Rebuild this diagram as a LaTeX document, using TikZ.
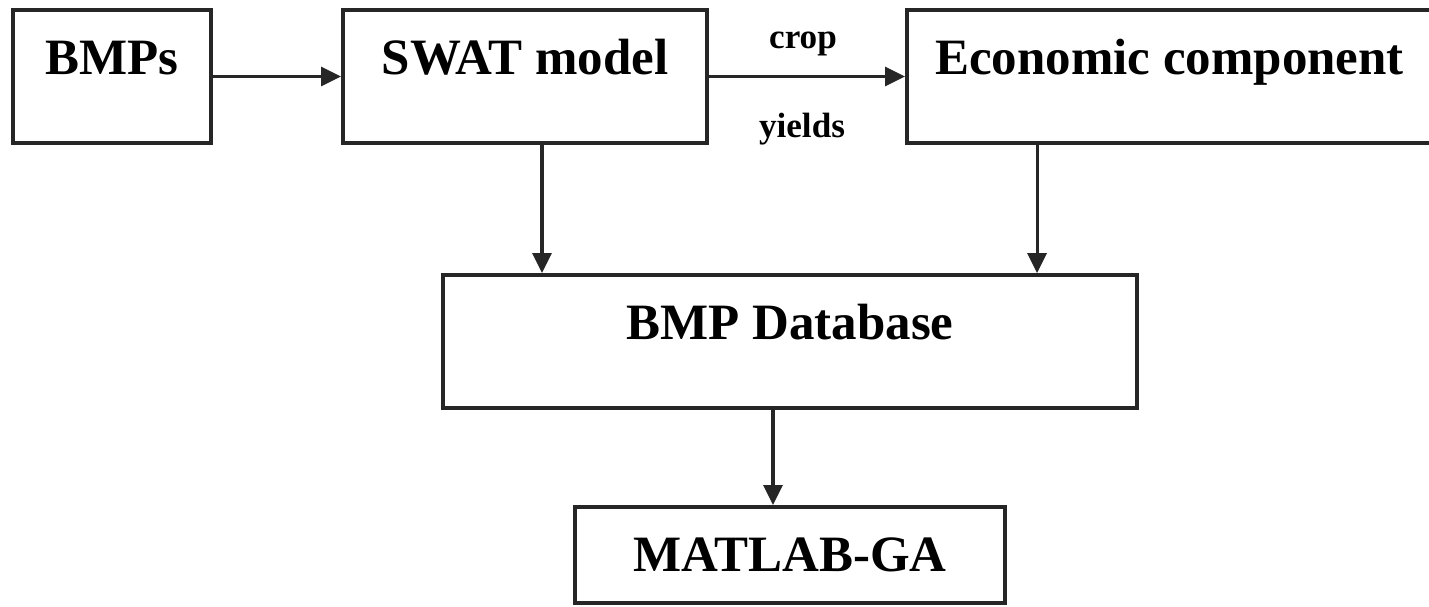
\documentclass[tikz,border=0pt]{standalone}
\usepackage{fontspec}
\setmainfont{Liberation Serif}
\usetikzlibrary{arrows.meta,positioning,calc}
\tikzset{box/.style={draw=black!85,line width=2.2pt,align=center,inner xsep=0pt,inner ysep=0pt,text height=12.8mm,text depth=13.8mm,font=\bfseries\fontsize{29}{32}\selectfont},arrow/.style={-{Triangle[length=4mm,width=3.8mm]},line width=1.8pt,draw=black!85},lab/.style={font=\bfseries\fontsize{20}{22}\selectfont,inner sep=0pt}}
\begin{document}
\begin{tikzpicture}
\useasboundingbox (0,0) rectangle (28.58,-12.12);
\node[box,minimum width=39.6mm] (bmps) at (2.24,-1.53) {BMPs};
\node[box,minimum width=72.8mm] (swat) at (10.5,-1.53) {SWAT model};
\node[box,minimum width=105mm] (econ) at (23.39,-1.53) {Economic component};
\node[box,minimum width=138.8mm] (db) at (15.8,-6.83) {BMP Database};
\node[box,minimum width=86mm,text depth=6.4mm] (ga) at (15.8,-11.1) {MATLAB-GA};
\draw[arrow](bmps)--(swat);
\draw[arrow](swat)--node[lab,anchor=base,yshift=5.7mm,xshift=-0.8mm] (crop) {crop} node[lab,anchor=base,yshift=-12.1mm,xshift=-1mm] (yields) {yields} (econ);
\draw[arrow]([xshift=3.4mm]swat.south)--([xshift=3.4mm]swat.south |- db.north);
\draw[arrow]([xshift=26.4mm]econ.south west)--([xshift=26.4mm]econ.south west |- db.north);
\draw[arrow]([xshift=-3.4mm]db.south)--([xshift=-3.4mm]ga.north);
\end{tikzpicture}
\end{document}
